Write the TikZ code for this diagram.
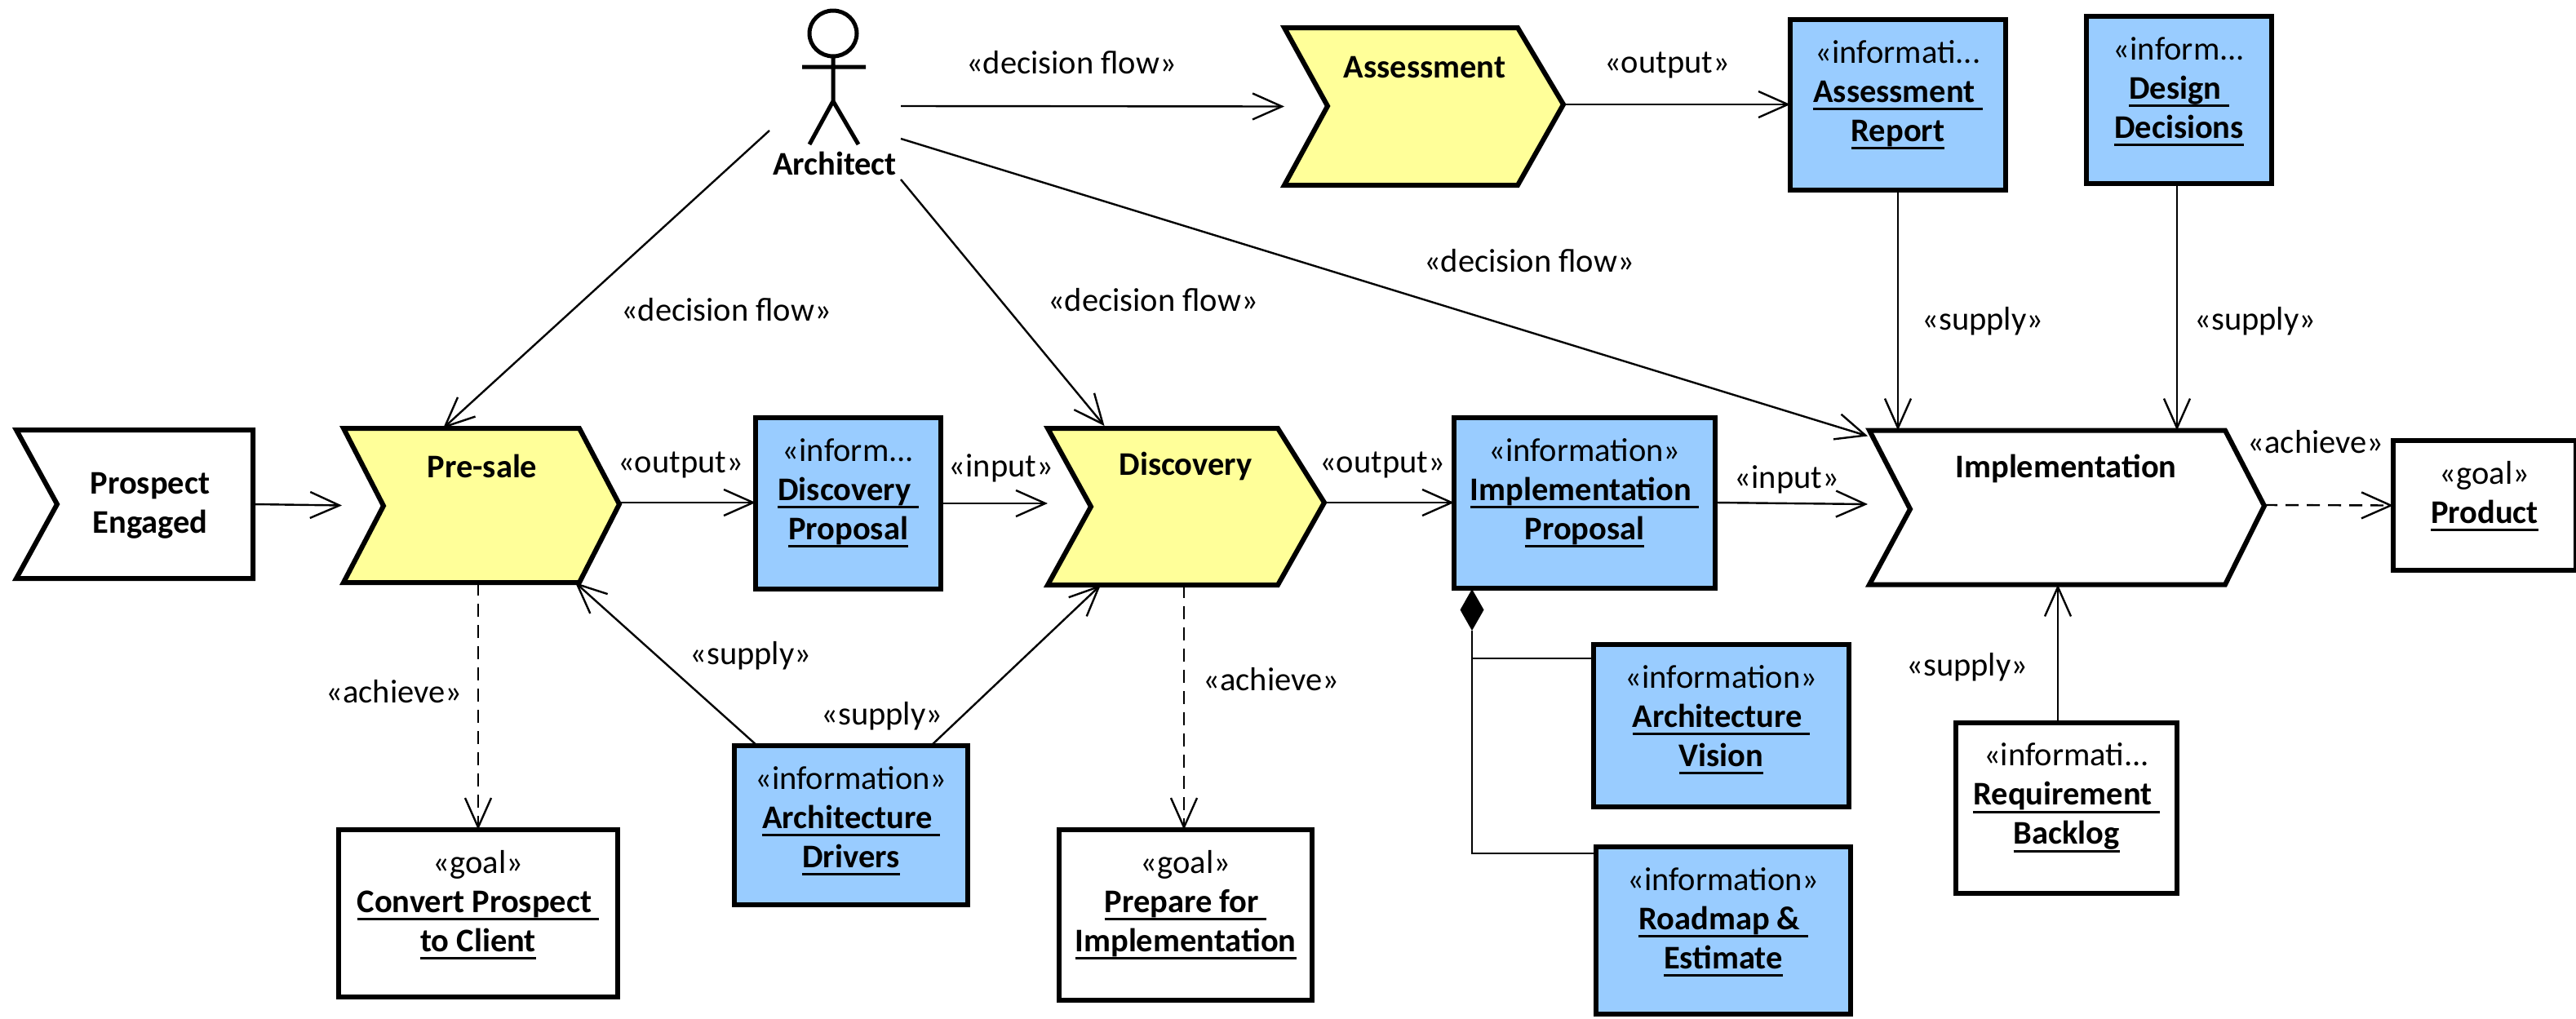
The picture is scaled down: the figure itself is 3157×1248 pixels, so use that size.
\documentclass[tikz,border=0pt]{standalone}
\usepackage{fontspec}
\setmainfont{Carlito}
\usetikzlibrary{arrows.meta,shapes.geometric}
\definecolor{actblue}{HTML}{99CCFF}
\definecolor{actyellow}{HTML}{FFFF99}
\newcommand\ster[1]{#1}
\newcommand\und[1]{\setbox0\hbox{\bfseries #1}\leavevmode\rlap{\rule[-10pt]{\wd0}{3pt}}\box0 }
\newcommand\infobox[7]{%
  \node[boxshape,fill=#6,minimum width=#4pt,minimum height=#5pt] (#1) at (#2,#3) {};
  \node[boxtext,yshift=-25pt] (#1text) at (#1.north) {#7};}
\tikzset{
  boxshape/.style={draw=black,line width=6pt,rectangle,inner sep=0pt,outer sep=0pt},
  boxtext/.style={anchor=north,align=center,inner sep=0pt,font=\fontsize{40.5}{48}\selectfont},
  zone/.style={rectangle,inner sep=0pt,outer sep=0pt},
  chevron/.style={draw=black,line width=6pt,line join=miter},
  chevtext/.style={align=center,inner sep=0pt,font=\fontsize{40.5}{48}\selectfont\bfseries},
  lbl/.style={inner sep=0pt,font=\fontsize{40.5}{48}\selectfont},
  conn/.style={line width=2.4pt,-{Straight Barb[length=36pt,width=32pt]}},
  dep/.style={line width=2.4pt,dash pattern=on 16pt off 10pt,-{Straight Barb[length=36pt,width=32pt]}},
  wire/.style={line width=2.4pt},
  actorline/.style={line width=5pt}
}
\begin{document}
\begin{tikzpicture}[x=1pt,y=-1pt]
\useasboundingbox (0,0) rectangle (3157,1248);
\fill[white] (0,0) rectangle (3157,1248);

% chevrons
\draw[chevron,fill=white] (20,527)--(310,527)--(310,709)--(20,709)--(70,618)--cycle;
\node[zone,minimum width=290pt,minimum height=182pt] (prospect) at (165,618) {};
\node[chevtext] (prospecttext) at (184,620) {Prospect\\Engaged};

\draw[chevron,fill=actyellow] (421,525)--(710,525)--(759,618)--(710,714)--(421,714)--(470,620)--cycle;
\node[zone,minimum width=338pt,minimum height=189pt] (presale) at (590,619.5) {};
\node[chevtext] (presaletext) at (591,571) {Pre-sale};

\draw[chevron,fill=actyellow] (1284,525)--(1566,525)--(1623,616)--(1566,717)--(1284,717)--(1337,621)--cycle;
\node[zone,minimum width=339pt,minimum height=192pt] (discovery) at (1453.5,621) {};
\node[chevtext] (discoverytext) at (1453,571) {Discovery};

\draw[chevron,fill=actyellow] (1574,34)--(1860,34)--(1916,128)--(1860,227)--(1574,227)--(1627,130)--cycle;
\node[zone,minimum width=342pt,minimum height=193pt] (assessment) at (1745,130.5) {};
\node[chevtext] (assessmenttext) at (1746,83) {Assessment};

\draw[chevron,fill=white] (2291,527.5)--(2727,527.5)--(2775,620)--(2727,716.5)--(2291,716.5)--(2341,624)--cycle;
\node[zone,minimum width=484pt,minimum height=189pt] (impl) at (2533,622) {};
\node[chevtext] (impltext) at (2532,574) {Implementation};

% information and goal boxes
\infobox{discprop}{1039.5}{617}{227}{210}{actblue}{\ster{«inform...}\\\und{Discovery\ }\\\und{Proposal}}
\infobox{implprop}{1942}{616.5}{320}{209}{actblue}{\ster{«information»}\\\und{Implementation\ }\\\und{Proposal}}
\infobox{archvision}{2109.5}{889.5}{313}{199}{actblue}{\ster{«information»}\\\und{Architecture\ }\\\und{Vision}}
\infobox{roadmap}{2112}{1140.5}{312}{205}{actblue}{\ster{«information»}\\\und{Roadmap \&\ }\\\und{Estimate}}
\infobox{report}{2326}{128.5}{264}{209}{actblue}{\ster{«informati...}\\\und{Assessment\ }\\\und{Report}}
\infobox{design}{2670.5}{122.5}{227}{205}{actblue}{\ster{«inform...}\\\und{Design\ }\\\und{Decisions}}
\infobox{drivers}{1043}{1011.5}{286}{195}{actblue}{\ster{«information»}\\\und{Architecture\ }\\\und{Drivers}}
\infobox{requirement}{2532.5}{990}{271}{209}{white}{\ster{«informati...}\\\und{Requirement\ }\\\und{Backlog}}
\infobox{convert}{586}{1119.5}{342}{205}{white}{\ster{«goal»}\\\und{Convert Prospect\ }\\\und{to Client}}
\infobox{prepare}{1453}{1121.5}{310}{209}{white}{\ster{«goal»}\\\und{Prepare for\ }\\\und{Implementation}}
\infobox{product}{3045}{619.5}{224}{159}{white}{\ster{«goal»}\\\und{Product}}

% actor
\draw[actorline] (1021,41) ellipse [x radius=29,y radius=28];
\draw[actorline] (1021,69)--(1021,124) (983,82)--(1061,82) (992,177)--(1021,124)--(1052,177);
\node[zone,minimum width=161pt,minimum height=210pt] (actor) at (1023.5,115) {};
\node[chevtext] (actorname) at (1023,200) {Architect};

% composition diamond
\fill[black] (1804,722)--(1818.5,747.5)--(1804,773)--(1789.5,747.5)--cycle;
\node[zone,minimum width=29pt,minimum height=51pt] (whole) at (1804,747.5) {};

% connectors
\draw[conn] (prospect.east) -- ([xshift=-2pt]presale.west);
\draw[conn] ([yshift=3.5pt]presale.east) -- ([yshift=3.5pt]presale.east -| discprop.west);
\draw[conn] (discprop.east) -- ([yshift=4pt]discovery.west);
\draw[conn] ([yshift=5pt]discovery.east) -- ([yshift=5pt]discovery.east -| implprop.west);
\draw[conn] ([yshift=0.5pt]implprop.east) -- ([xshift=-2pt,yshift=4pt]impl.west);
\draw[dep] ([yshift=3pt]impl.east) -- (product.west);
\draw[conn] ([yshift=-45pt]actor.west) -- ([xshift=-47pt]presale.north);
\draw[conn] ([yshift=-105pt]actor.east) -- ([xshift=-100pt,yshift=3pt]discovery.north);
\draw[conn] ([yshift=-55pt]actor.east) -- ([xshift=-2pt,yshift=-7pt]impl.north west);
\draw[conn] ([yshift=-15pt]actor.east) -- ([xshift=0pt]assessment.west);
\draw[conn] ([yshift=2.5pt]assessment.east) -- ([yshift=0.5pt]report.west);
\draw[conn] (report.south) -- (report.south |- impl.north);
\draw[conn] ([xshift=-2.5pt]design.south) -- ([xshift=135pt]impl.north);
\draw[conn] ([xshift=-10.5pt]requirement.north) -- ([xshift=-11pt]impl.south);
\draw[dep] ([xshift=-4pt]presale.south) -- ([xshift=0pt]convert.north);
\draw[dep] ([xshift=-2.5pt]discovery.south) -- ([xshift=-2pt]prepare.north);
\draw[conn] ([xshift=-115pt]drivers.north) -- ([xshift=115pt]presale.south);
\draw[conn] ([xshift=98pt]drivers.north) -- ([xshift=-104.5pt]discovery.south);
\draw[wire] (whole.south) |- (archvision.west |- 0,807);
\draw[wire] (whole.south) |- (roadmap.west |- 0,1046);

% labels
\node[lbl] (l1) at (834,570) {«output»};
\node[lbl] (l2) at (1227,574) {«input»};
\node[lbl] (l3) at (1694,570) {«output»};
\node[lbl] (l4) at (2190,588) {«input»};
\node[lbl] (l5) at (2838,542) {«achieve»};
\node[lbl] (l6) at (890,380) {«decision flow»};
\node[lbl] (l7) at (1413,368) {«decision flow»};
\node[lbl] (l8) at (1874,320) {«decision flow»};
\node[lbl] (l9) at (1313,77) {«decision flow»};
\node[lbl] (l10) at (2043,80) {«output»};
\node[lbl] (l11) at (2430,394) {«supply»};
\node[lbl] (l12) at (2764,394) {«supply»};
\node[lbl] (l13) at (2411,818) {«supply»};
\node[lbl] (l14) at (483,848) {«achieve»};
\node[lbl] (l15) at (1558,833) {«achieve»};
\node[lbl] (l16) at (920,804) {«supply»};
\node[lbl] (l17) at (1081,878) {«supply»};
\end{tikzpicture}
\end{document}
